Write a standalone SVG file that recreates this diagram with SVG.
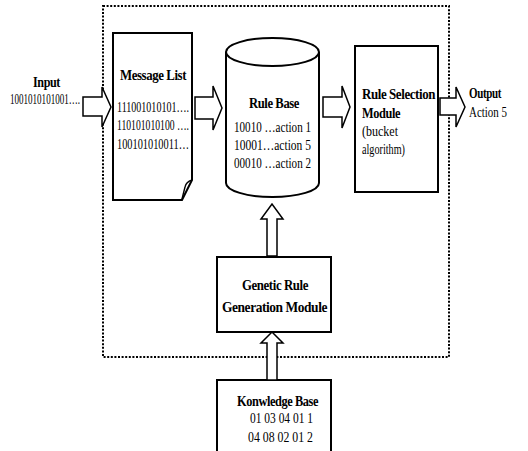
<svg xmlns="http://www.w3.org/2000/svg" width="528" height="451" viewBox="0 0 528 451">
<style>
.box{fill:#fff;stroke:#000;stroke-width:2}
.arr{fill:#fff;stroke:#000;stroke-width:1.5;stroke-linejoin:miter}
.dot{fill:none;stroke:#000;stroke-width:2;stroke-dasharray:2 1.6}
text{font-family:"Liberation Serif","Times New Roman",serif;fill:#000}
.b{font-weight:bold;font-size:15.5px;letter-spacing:-0.5px}
.n{font-size:14px}
</style>
<rect width="528" height="451" fill="#fff"/>
<rect id="boundary" class="dot" x="103" y="6" width="346" height="351"/>
<g id="input">
<text class="b" x="33" y="87" textLength="27" lengthAdjust="spacingAndGlyphs">Input</text>
<text class="n" x="10" y="104" textLength="70" lengthAdjust="spacingAndGlyphs">1001010101001….</text>
</g>
<g id="message-list">
<path class="box" d="M113,33 H192 V180 L182,200 H113 Z"/>
<path fill="none" stroke="#000" stroke-width="1.4" d="M192,180 Q186,182 185,187 L182,199"/>
<text class="b" x="120" y="80" textLength="66" lengthAdjust="spacingAndGlyphs">Message List</text>
<text class="n" x="117" y="112" textLength="72" lengthAdjust="spacingAndGlyphs">111001010101….</text>
<text class="n" x="117" y="130" textLength="72" lengthAdjust="spacingAndGlyphs">110101010100 ….</text>
<text class="n" x="117" y="149" textLength="72" lengthAdjust="spacingAndGlyphs">100101010011…</text>
</g>
<g id="rule-base">
<path class="box" d="M226,52 V183 A46.5,14 0 0 0 319,183 V52 A46.5,14 0 0 0 226,52 Z"/>
<path fill="none" stroke="#000" stroke-width="2" d="M226,52 A46.5,14 0 0 0 319,52"/>
<text class="b" x="249" y="108" textLength="50" lengthAdjust="spacingAndGlyphs">Rule Base</text>
<text class="n" x="234" y="132" textLength="77" lengthAdjust="spacingAndGlyphs">10010 …action 1</text>
<text class="n" x="234" y="150" textLength="77" lengthAdjust="spacingAndGlyphs">10001…action 5</text>
<text class="n" x="234" y="168" textLength="77" lengthAdjust="spacingAndGlyphs">00010 …action 2</text>
</g>
<g id="rule-selection">
<rect class="box" x="355" y="46" width="83" height="146"/>
<text class="b" x="362" y="99" textLength="73" lengthAdjust="spacingAndGlyphs">Rule Selection</text>
<text class="b" x="362" y="118" textLength="38" lengthAdjust="spacingAndGlyphs">Module</text>
<text class="n" x="362" y="136" textLength="36" lengthAdjust="spacingAndGlyphs">(bucket</text>
<text class="n" x="362" y="154" textLength="43" lengthAdjust="spacingAndGlyphs">algorithm)</text>
</g>
<g id="output">
<text class="b" x="469" y="98" textLength="32" lengthAdjust="spacingAndGlyphs">Output</text>
<text class="n" x="469" y="117" textLength="38" lengthAdjust="spacingAndGlyphs">Action 5</text>
</g>
<g id="genetic">
<rect class="box" x="217" y="257" width="114" height="75"/>
<text class="b" x="242" y="290" textLength="66" lengthAdjust="spacingAndGlyphs">Genetic Rule</text>
<text class="b" x="222" y="312" textLength="105" lengthAdjust="spacingAndGlyphs">Generation Module</text>
</g>
<g id="knowledge-base">
<path class="box" d="M217,460 V380 H331 V460"/>
<text class="b" x="237" y="406" textLength="81" lengthAdjust="spacingAndGlyphs">Konwledge Base</text>
<text class="n" x="250" y="423" textLength="63" lengthAdjust="spacingAndGlyphs">01 03 04 01 1</text>
<text class="n" x="248" y="442" textLength="65" lengthAdjust="spacingAndGlyphs">04 08 02 01 2</text>
</g>
<g id="connectors">
<path class="arr" d="M83,97 H102 V87 L111,107 L102,127 V116 H83 Z"/>
<path class="arr" d="M195,97 H213 V86 L222,108 L213,130 V119 H195 Z"/>
<path class="arr" d="M323,97 H342 V86 L350,107 L342,128 V117 H323 Z"/>
<path class="arr" d="M440,98 H456 V87 L465,107 L456,127 V115 H440 Z"/>
<path class="arr" d="M267,256 V219 H261 L272,204 L283,219 H277 V256 Z"/>
<path class="arr" d="M267,380 V343 H261 L272,332 L283,343 H277 V380 Z"/>
</g>
</svg>
